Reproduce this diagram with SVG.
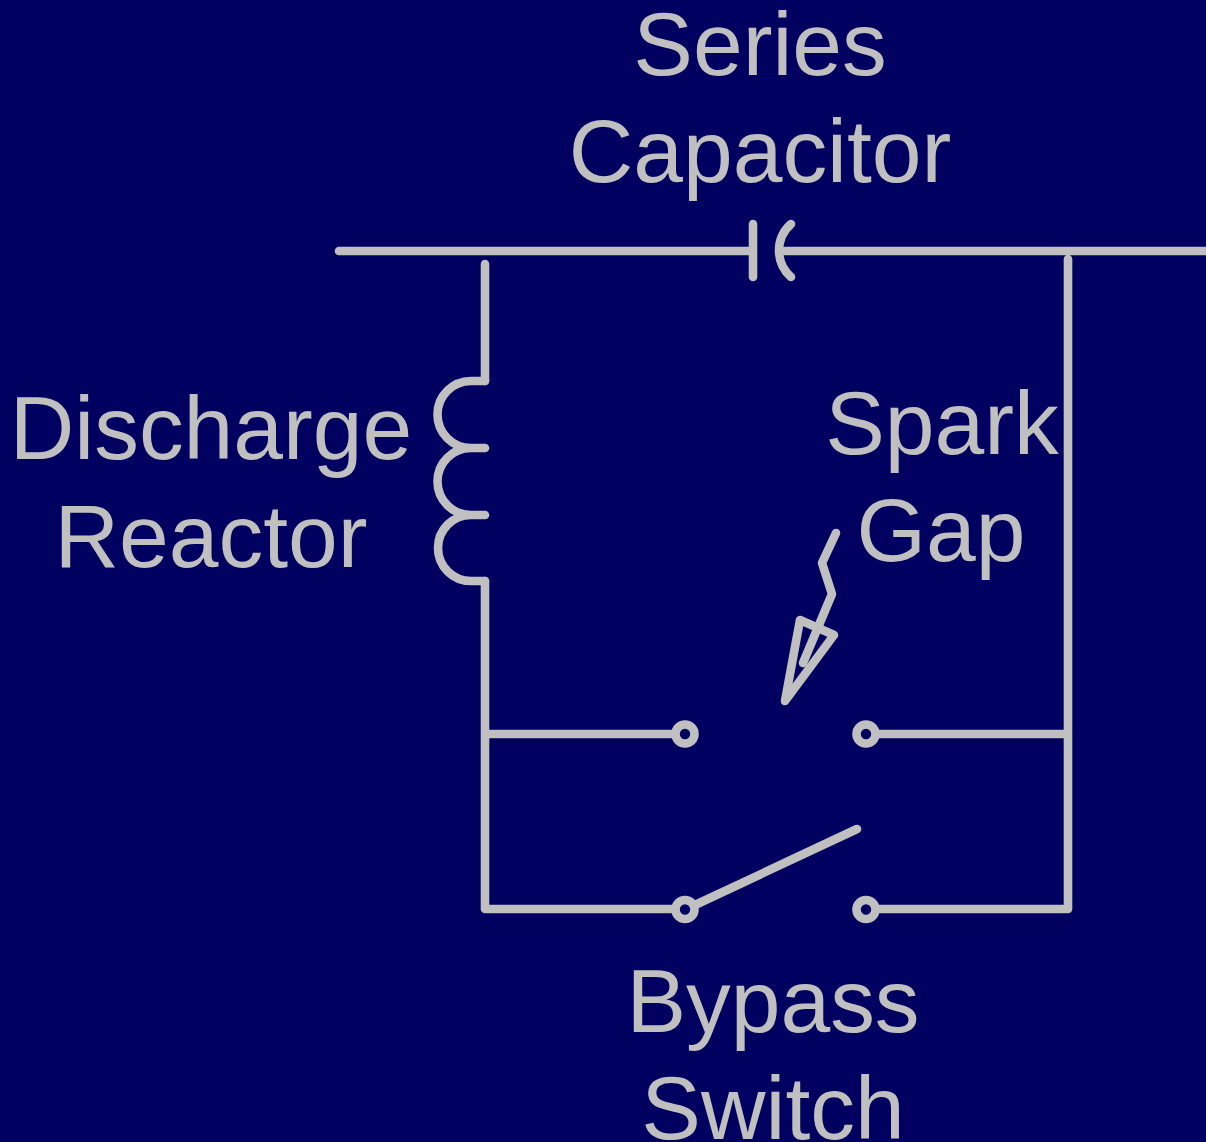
<svg xmlns="http://www.w3.org/2000/svg" width="1206" height="1142" viewBox="0 0 1206 1142">
<style>
.w{fill:none;stroke:#c0c0c0;stroke-width:8.600;stroke-linecap:round;stroke-linejoin:round}
.t{font-family:"Liberation Sans",Arial,sans-serif;font-size:89.400px;fill:#c0c0c0;text-anchor:middle}
</style>
<rect width="1206" height="1142" fill="#000060"/>
<g id="connectors">
<path class="w" d="M339 251H749M785 251H1210"/>
<path class="w" d="M485 264V381M485 581V909H675M485 734H675M877 734H1068M877 909H1068M1068 259V909"/>
</g>
<g id="series-capacitor">
<path class="w" d="M753 224V277M791 224A35.300 35.300 0 0 0 791 277"/>
<text class="t" x="760" y="75">Series</text>
<text class="t" x="760" y="182">Capacitor</text>
</g>
<g id="discharge-reactor">
<path class="w" d="M485 381H471A33.500 33.500 0 0 0 471 448H485M471 448A33.500 33.500 0 0 0 471 515H485M471 515A33 33 0 0 0 471 581H485"/>
<text class="t" x="211" y="459">Discharge</text>
<text class="t" x="211" y="567">Reactor</text>
</g>
<g id="spark-gap">
<path class="w" d="M836 533L822 563L832 594L803 663"/>
<path class="w" d="M785 701L800 620L834 635Z"/>
<circle class="w" cx="685" cy="734" r="9.500"/>
<circle class="w" cx="866" cy="734" r="9.500"/>
<text class="t" x="942" y="454">Spark</text>
<text class="t" x="941" y="561">Gap</text>
</g>
<g id="bypass-switch">
<path class="w" d="M695 905L857 829"/>
<circle class="w" cx="685" cy="909.500" r="9.500"/>
<circle class="w" cx="866" cy="909.500" r="9.500"/>
<text class="t" x="773" y="1032">Bypass</text>
<text class="t" x="773" y="1139">Switch</text>
</g>
</svg>
